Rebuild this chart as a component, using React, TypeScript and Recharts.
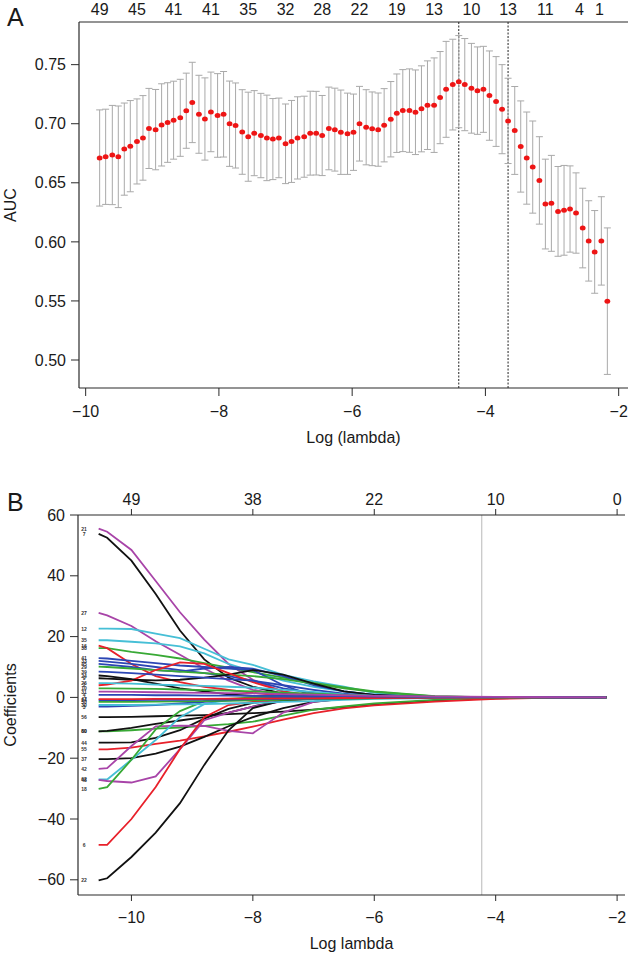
import React from "react";
import {
  ComposedChart,
  Scatter,
  ErrorBar,
  Line,
  XAxis,
  YAxis,
  ReferenceLine,
  Label,
} from "recharts";

// ---------- panel A: cross-validated AUC ----------
const logLambda = [
  -9.79, -9.7, -9.6, -9.51, -9.42, -9.33, -9.23, -9.14, -9.05, -8.95,
  -8.86, -8.77, -8.68, -8.58, -8.49, -8.4, -8.3, -8.21, -8.12, -8.02,
  -7.93, -7.84, -7.75, -7.65, -7.56, -7.47, -7.37, -7.28, -7.19, -7.1,
  -7.0, -6.91, -6.82, -6.72, -6.63, -6.54, -6.45, -6.35, -6.26, -6.17,
  -6.07, -5.98, -5.89, -5.79, -5.7, -5.61, -5.52, -5.42, -5.33, -5.24,
  -5.14, -5.05, -4.96, -4.87, -4.77, -4.68, -4.59, -4.49, -4.4, -4.31,
  -4.21, -4.12, -4.03, -3.94, -3.84, -3.75, -3.66, -3.56, -3.47, -3.38,
  -3.29, -3.19, -3.1, -3.01, -2.91, -2.82, -2.73, -2.64, -2.54, -2.45,
  -2.36, -2.26, -2.17,
];

const aucMean = [
  0.671, 0.672, 0.6735, 0.672, 0.6785, 0.681, 0.685, 0.688, 0.696, 0.695,
  0.699, 0.701, 0.703, 0.705, 0.711, 0.718, 0.708, 0.704, 0.71, 0.707,
  0.708, 0.7, 0.6985, 0.693, 0.689, 0.692, 0.69, 0.688, 0.687, 0.688,
  0.683, 0.685, 0.688, 0.689, 0.692, 0.692, 0.69, 0.696, 0.695, 0.6928,
  0.6915, 0.6928, 0.7, 0.697, 0.6957, 0.695, 0.6987, 0.7038, 0.7089, 0.7111,
  0.7111, 0.7097, 0.7126, 0.7157, 0.7157, 0.7221, 0.7291, 0.7331, 0.7356, 0.7331,
  0.73, 0.728, 0.7291, 0.7238, 0.7188, 0.7123, 0.7024, 0.6943, 0.6807, 0.6709,
  0.6633, 0.652, 0.632, 0.6326, 0.6258, 0.6267, 0.6278, 0.6244, 0.6117, 0.6008,
  0.5915, 0.6008, 0.5498,
];

const aucSe = [
  0.0407, 0.0403, 0.042, 0.043, 0.039, 0.0386, 0.036, 0.0358, 0.0339, 0.034,
  0.0348, 0.0337, 0.033, 0.0326, 0.0318, 0.034, 0.033, 0.0348, 0.0337, 0.0354,
  0.0362, 0.0361, 0.036, 0.0358, 0.0377, 0.036, 0.0357, 0.0362, 0.0343, 0.0337,
  0.0337, 0.0347, 0.0348, 0.0343, 0.0355, 0.0354, 0.0339, 0.035, 0.0351, 0.0357,
  0.0344, 0.0323, 0.0316, 0.0318, 0.0312, 0.031, 0.031, 0.0319, 0.0332, 0.0347,
  0.0353, 0.0358, 0.0364, 0.0375, 0.04, 0.039, 0.0406, 0.0384, 0.039, 0.039,
  0.038, 0.037, 0.0364, 0.0378, 0.038, 0.0377, 0.0361, 0.0372, 0.0386, 0.039,
  0.039, 0.037, 0.038, 0.0406, 0.038, 0.038, 0.0365, 0.034, 0.0337, 0.034,
  0.035, 0.0374, 0.062,
];

// number of non-zero coefficients along the top
const nzTickPos = [
  -9.79, -9.23, -8.68, -8.12, -7.56, -7.0, -6.45, -5.89, -5.33, -4.77, -4.21,
  -3.66, -3.1, -2.59, -2.29,
];
const nzTickLabels = ["49", "45", "41", "41", "35", "32", "28", "22", "19", "13", "10", "13", "11", "4", "1"];

const lambdaMin = -4.4;
const lambda1se = -3.66;

// ---------- panel B: coefficient paths ----------
const pathLogLambda = [
  -10.54, -10.4, -10.0, -9.6, -9.2, -8.8, -8.4, -8.0, -7.5, -7.0, -6.5, -6.0, -5.0, -4.0, -3.0, -2.18,
];

const pathNames = [
  "21", "7", "27", "12", "35", "38", "16", "41", "33", "45", "29", "9",
  "2", "24", "39", "26", "56", "60", "80", "44", "55", "37", "42", "62",
  "48", "18", "6", "22", "3", "30", "50", "14", "47", "10", "4", "31",
];

const pathValues = [
  [55.5, 54.5, 48.5, 38.3, 28, 19, 11, 5.8, 1.8, 0.4, 0, 0, 0, 0, 0, 0],
  [53.8, 52.5, 45, 34, 22, 12.5, 6.5, 3.5, 1.2, 0.3, 0, 0, 0, 0, 0, 0],
  [27.8, 27, 23.5, 18.5, 14, 9.5, 5.5, 2.5, 0.8, 0, 0, 0, 0, 0, 0, 0],
  [22.6, 22.6, 22.5, 21, 19.5, 16, 12.5, 10.7, 7.4, 5.3, 3.5, 1.5, 0.2, 0, 0, 0],
  [18.8, 18.8, 18.3, 17.8, 16.8, 14.5, 11, 8.5, 5.5, 3.5, 2, 0.8, 0, 0, 0, 0],
  [16.2, 16.2, 15, 14, 12.8, 11.3, 9.8, 8.3, 6.5, 4.8, 3.3, 2, 0.4, 0, 0, 0],
  [17, 16.2, 11, 7, 5, 3.5, 2.5, 1.5, 0.5, 0, 0, 0, 0, 0, 0, 0],
  [12.9, 12.8, 12, 11.3, 10.5, 10, 9.5, 9, 4, 0.5, 0, 0, 0, 0, 0, 0],
  [12, 11.8, 11, 10, 9, 8, 7, 5.5, 3, 1.5, 0.5, 0, 0, 0, 0, 0],
  [11, 10.8, 10, 9, 8.5, 9.5, 10, 9.5, 7, 4, 2, 0.8, 0, 0, 0, 0],
  [10.1, 10, 9.5, 9, 8.5, 8, 7.5, 7, 6, 4.5, 3, 1.8, 0.3, 0, 0, 0],
  [6.3, 6.2, 5.8, 5.6, 5.8, 6.5, 7.5, 9, 7.5, 4.5, 2, 0.8, 0, 0, 0, 0],
  [4, 4.2, 5.5, 9, 11.5, 11, 8, 5, 2, 0.5, 0, 0, 0, 0, 0, 0],
  [7.2, 7, 6, 4.5, 3, 2, 1, 0.5, 0, 0, 0, 0, 0, 0, 0, 0],
  [8.5, 8.4, 8, 7.5, 7, 6.5, 6, 5.5, 4, 2.5, 1.2, 0.5, 0, 0, 0, 0],
  [4.7, 4.7, 4.5, 4.2, 4, 3.8, 3.5, 3.2, 2.5, 1.8, 1, 0.5, 0.1, 0, 0, 0],
  [-6.5, -6.5, -6.4, -6.2, -6, -5.8, -5.5, -5.2, -4.7, -4, -3.2, -2.3, -1, -0.3, 0, 0],
  [-11.2, -11.2, -10.8, -10.3, -9.9, -9.4, -8.8, -8, -6, -4, -3, -2, -0.8, -0.2, 0, 0],
  [-11.2, -11, -10, -8.7, -7.6, -6.5, -5, -3, -1, -0.3, 0, 0, 0, 0, 0, 0],
  [-14.9, -14.9, -14.8, -13.3, -10.8, -7, -3.8, -1.8, -0.5, 0, 0, 0, 0, 0, 0, 0],
  [-17.1, -17.1, -16.5, -15.3, -14.2, -12.8, -11.3, -9.6, -7.3, -5.2, -3.6, -2.6, -1.4, -0.5, -0.1, 0],
  [-20.3, -20.3, -20, -18.5, -16.2, -13, -9.5, -6.5, -3.5, -1.5, -0.5, 0, 0, 0, 0, 0],
  [-23.5, -23.3, -16, -9.5, -9.3, -9.4, -11, -11.8, -5, -1.5, -0.3, 0, 0, 0, 0, 0],
  [-27, -27, -20.5, -14, -6.5, -2.2, -0.8, 0, 0, 0, 0, 0, 0, 0, 0, 0],
  [-27.1, -27.5, -28, -26, -17, -7.5, -5, -3, -1.2, -0.4, 0, 0, 0, 0, 0, 0],
  [-30.1, -29.5, -20.5, -10.5, -4.5, -1.2, -0.5, 0, 0, 0, 0, 0, 0, 0, 0, 0],
  [-48.5, -48.5, -40, -29.5, -17, -6.5, -2.5, -1.5, -0.8, -0.3, 0, 0, 0, 0, 0, 0],
  [-60.2, -59.5, -52.5, -44.5, -34.8, -22.2, -10.8, -3.5, -1, -0.3, 0, 0, 0, 0, 0, 0],
  [-3, -3, -2.8, -2.5, -2, -1.5, -1, -0.5, 0, 0, 0, 0, 0, 0, 0, 0],
  [-2.5, -2.5, -2.5, -2.4, -2.3, -2.2, -2, -1.8, -1.5, -1.2, -0.8, -0.5, -0.2, 0, 0, 0],
  [-1.5, -1.5, -1.5, -1.4, -1.3, -1.2, -1.1, -1, -0.8, -0.6, -0.5, -0.3, -0.1, 0, 0, 0],
  [-0.9, -0.9, -0.9, -0.8, -0.8, -0.7, -0.7, -0.6, -0.5, -0.4, -0.3, -0.2, -0.1, 0, 0, 0],
  [-0.6, -0.6, -0.6, -0.5, -0.5, -0.5, -0.4, -0.4, -0.3, -0.3, -0.2, -0.2, -0.1, -0.05, 0, 0],
  [3, 3, 2.9, 2.8, 2.6, 2.4, 2.2, 2, 1.6, 1.2, 0.8, 0.5, 0.1, 0.05, 0, 0],
  [0.8, 0.8, 0.8, 0.7, 0.7, 0.6, 0.6, 0.5, 0.5, 0.4, 0.4, 0.3, 0.2, 0.1, 0.05, 0],
  [1.9, 1.9, 1.8, 1.7, 1.6, 1.5, 1.4, 1.3, 1.1, 0.9, 0.7, 0.5, 0.3, 0.15, 0.05, 0],
];

const pathTopPos = [-10, -8, -6, -4, -2];
const pathTopLabels = ["49", "38", "22", "10", "0"];
const lambdaChosen = -4.23;

// ---------- styles ----------
const FONT = "'Liberation Sans', Arial, Helvetica, sans-serif";
const AXIS = "#2a2a2a";
const TEXT = "#1a1a1a";
const K = "#111111";
const R = "#e8202a";
const G = "#38a935";
const B = "#2c46b4";
const C = "#46bfd6";
const P = "#a844a8";
const pathColors = [
  P, K, P, C, C, G, R, B, B, B, G, K,
  R, K, B, C, K, G, K, K, R, K, P, C,
  P, G, R, K, B, C, G, B, R, G, B, P,
];

const tickStyle = { fontSize: 16, fill: TEXT };
const axisLineStyle = { stroke: AXIS, strokeWidth: 1.2 };
const minus = (v: number) => String(v).replace("-", "\u2212");

const RedDot = (p: any) => <ellipse cx={p.cx} cy={p.cy} rx={2.9} ry={2.5} fill="#ee1515" />;

const VarLabel = (p: any) => (
  <text x={p.cx} y={p.cy + 2} fontSize={5} fontWeight="bold" fill="#333" textAnchor="middle">
    {p.payload.name}
  </text>
);

function PanelA() {
  const rows = logLambda.map((x, i) => ({ x, auc: aucMean[i], se: aucSe[i] }));
  const xDomain = [-10.1, -1.86];
  return (
    <ComposedChart width={630} height={460} data={rows} margin={{ top: 0, right: 2, bottom: 0, left: 0 }}>
      <XAxis
        xAxisId="top"
        orientation="top"
        type="number"
        dataKey="x"
        domain={xDomain}
        allowDataOverflow
        ticks={nzTickPos}
        interval={0}
        tickFormatter={(v: number) => nzTickLabels[nzTickPos.indexOf(v)]}
        tickLine={false}
        tickSize={0}
        tickMargin={7}
        height={22}
        axisLine={axisLineStyle}
        tick={tickStyle}
      />
      <XAxis
        type="number"
        dataKey="x"
        domain={xDomain}
        allowDataOverflow
        ticks={[-10, -8, -6, -4, -2]}
        interval={0}
        tickFormatter={minus}
        height={72}
        tickSize={8}
        tickMargin={10}
        axisLine={axisLineStyle}
        tickLine={{ stroke: AXIS }}
        tick={tickStyle}
      >
        <Label value="Log (lambda)" position="insideBottom" offset={17} style={{ fontSize: 16, fill: TEXT }} />
      </XAxis>
      <YAxis
        type="number"
        domain={[0.4763, 0.7861]}
        allowDataOverflow
        ticks={[0.5, 0.55, 0.6, 0.65, 0.7, 0.75]}
        interval={0}
        tickFormatter={(v: number) => v.toFixed(2)}
        width={79}
        tickSize={8}
        tickMargin={5}
        axisLine={axisLineStyle}
        tickLine={{ stroke: AXIS }}
        tick={tickStyle}
      >
        <Label value="AUC" angle={-90} position="insideLeft" offset={10} style={{ fontSize: 16, fill: TEXT, textAnchor: "middle" }} />
      </YAxis>
      <YAxis yAxisId="r" orientation="right" width={0} domain={[0, 1]} tick={false} tickLine={false} axisLine={axisLineStyle} />
      <ReferenceLine x={lambdaMin} stroke="#222" strokeDasharray="2 1.5" />
      <ReferenceLine x={lambda1se} stroke="#222" strokeDasharray="2 1.5" />
      <Scatter dataKey="auc" shape={RedDot} isAnimationActive={false}>
        <ErrorBar dataKey="se" direction="y" width={3.5} stroke="#a9a9a9" strokeWidth={1} />
      </Scatter>
    </ComposedChart>
  );
}

function PanelB() {
  const rows = pathLogLambda.map((x, i) => {
    const row: Record<string, number> = { x };
    pathValues.forEach((vals, j) => {
      row["p" + j] = vals[i];
    });
    return row;
  });
  const labelRows = pathNames.map((name, j) => ({ x: -10.78, y: pathValues[j][0], name }));
  const xDomain = [-10.88, -1.87];
  return (
    <ComposedChart width={630} height={475} data={rows} margin={{ top: 0, right: 5, bottom: 0, left: 0 }}>
      <XAxis
        xAxisId="top"
        orientation="top"
        type="number"
        dataKey="x"
        domain={xDomain}
        allowDataOverflow
        ticks={pathTopPos}
        interval={0}
        tickFormatter={(v: number) => pathTopLabels[pathTopPos.indexOf(v)]}
        height={35}
        tickSize={6}
        tickMargin={4}
        axisLine={axisLineStyle}
        tickLine={{ stroke: AXIS }}
        tick={tickStyle}
      />
      <XAxis
        type="number"
        dataKey="x"
        domain={xDomain}
        allowDataOverflow
        ticks={[-10, -8, -6, -4, -2]}
        interval={0}
        tickFormatter={minus}
        height={60}
        tickSize={6}
        tickMargin={11}
        axisLine={axisLineStyle}
        tickLine={{ stroke: AXIS }}
        tick={tickStyle}
      >
        <Label value="Log lambda" position="insideBottom" offset={6} style={{ fontSize: 16, fill: TEXT }} />
      </XAxis>
      <YAxis
        type="number"
        domain={[-65, 60]}
        allowDataOverflow
        ticks={[-60, -40, -20, 0, 20, 40, 60]}
        interval={0}
        tickFormatter={minus}
        width={78}
        tickSize={8}
        tickMargin={5}
        axisLine={axisLineStyle}
        tickLine={{ stroke: AXIS }}
        tick={tickStyle}
      >
        <Label value="Coefficients" angle={-90} position="insideLeft" offset={10} style={{ fontSize: 16, fill: TEXT, textAnchor: "middle" }} />
      </YAxis>
      <YAxis yAxisId="r" orientation="right" width={0} domain={[0, 1]} tick={false} tickLine={false} axisLine={axisLineStyle} />
      <ReferenceLine x={lambdaChosen} stroke="#c4c4c4" strokeWidth={1.2} />
      {pathValues.map((_, j) => (
        <Line
          key={j}
          type="linear"
          dataKey={"p" + j}
          stroke={pathColors[j]}
          strokeWidth={1.8}
          dot={false}
          isAnimationActive={false}
        />
      ))}
      <Scatter data={labelRows} dataKey="y" shape={VarLabel} isAnimationActive={false} />
    </ComposedChart>
  );
}

export default function App() {
  return (
    <div style={{ position: "absolute", left: 0, top: 0, width: 630, height: 955, background: "#fff", fontFamily: FONT }}>
      <div style={{ position: "absolute", left: 0, top: 0 }}>
        <PanelA />
      </div>
      <div style={{ position: "absolute", left: 0, top: 480 }}>
        <PanelB />
      </div>
      <div style={{ position: "absolute", left: 7, top: 5, fontSize: 25, lineHeight: "25px", color: TEXT }}>A</div>
      <div style={{ position: "absolute", left: 7, top: 490, fontSize: 25, lineHeight: "25px", color: TEXT }}>B</div>
    </div>
  );
}
